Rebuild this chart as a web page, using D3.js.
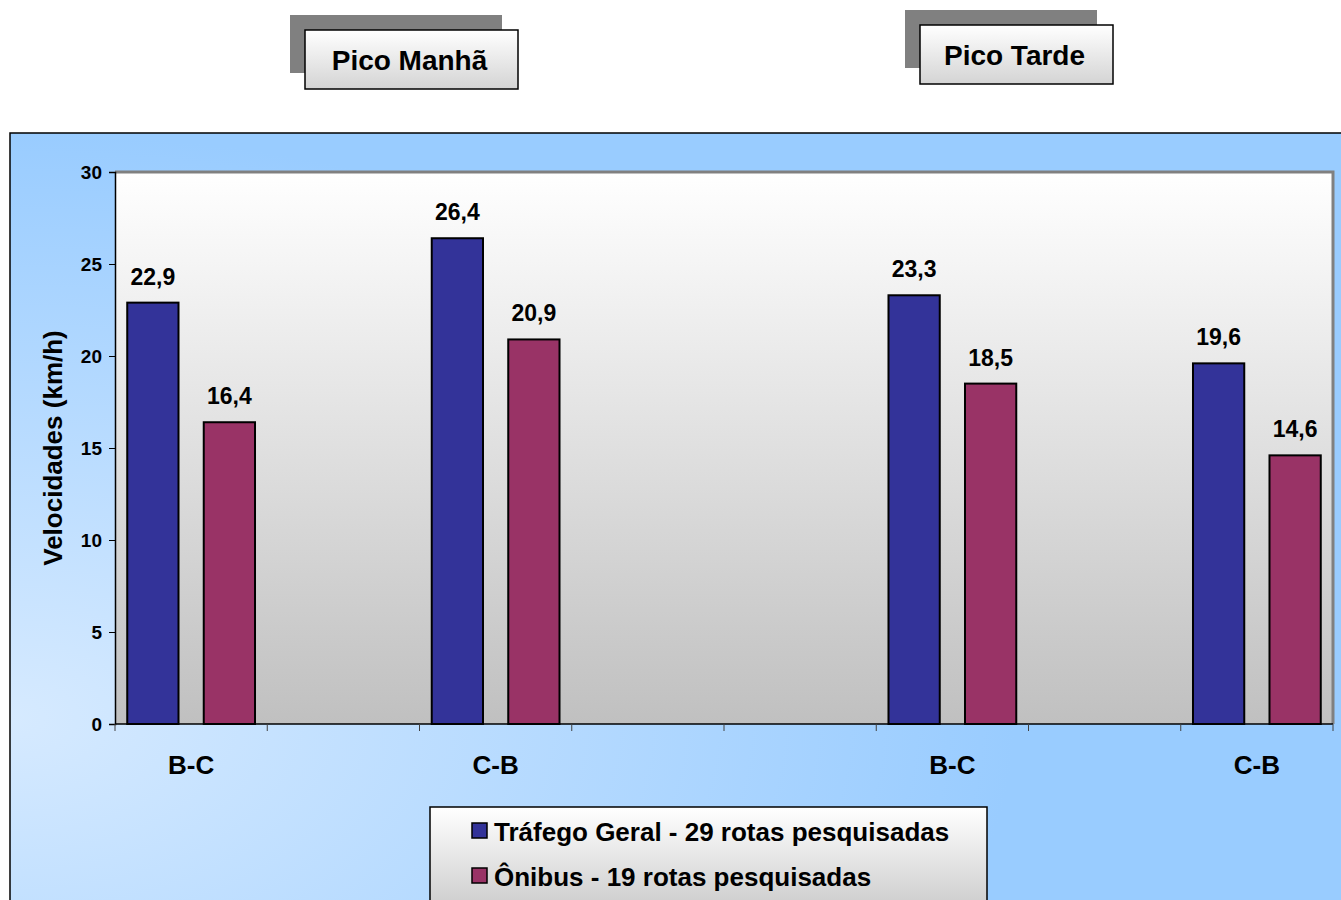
<!DOCTYPE html>
<html>
<head>
<meta charset="utf-8">
<script src="https://cdn.jsdelivr.net/npm/d3@7"></script>
<style>
  body { margin: 0; background: #fff; overflow: hidden; }
  text { font-family: Arial, "Liberation Sans", sans-serif; font-weight: bold; }
</style>
</head>
<body>
<svg id="chart" width="1341" height="900"></svg>
<script>
// categories (empty slots keep the gaps of the original)
let categories = ["B-C", "", "C-B", "", "", "B-C", "", "C-B"];
let trafegoGeral = [22.9, null, 26.4, null, null, 23.3, null, 19.6];
let onibus = [16.4, null, 20.9, null, null, 18.5, null, 14.6];
let seriesNames = ["Tráfego Geral - 29 rotas pesquisadas", "Ônibus - 19 rotas pesquisadas"];
let seriesColors = ["#333399", "#993366"];
let yTicks = [0, 5, 10, 15, 20, 25, 30];
let headers = ["Pico Manhã", "Pico Tarde"];

var svg = d3.select("#chart");
var defs = svg.append("defs");

//gradients
var bg = defs.append("radialGradient").attr("id", "bgGrad")
  .attr("cx", "0").attr("cy", "0.75").attr("r", "0.75");
bg.append("stop").attr("offset", "0").attr("stop-color", "#d6eaff");
bg.append("stop").attr("offset", "1").attr("stop-color", "#99ccff");

var plotGrad = defs.append("linearGradient").attr("id", "plotGrad")
  .attr("x1", 0).attr("y1", 0).attr("x2", 0).attr("y2", 1);
plotGrad.append("stop").attr("offset", "0").attr("stop-color", "#ffffff");
plotGrad.append("stop").attr("offset", "1").attr("stop-color", "#c0c0c0");

var boxGrad = defs.append("linearGradient").attr("id", "boxGrad")
  .attr("x1", 0).attr("y1", 0).attr("x2", 0).attr("y2", 1);
boxGrad.append("stop").attr("offset", "0").attr("stop-color", "#ffffff");
boxGrad.append("stop").attr("offset", "1").attr("stop-color", "#d4d4d4");

var legGrad = defs.append("linearGradient").attr("id", "legGrad")
  .attr("x1", 0).attr("y1", 0).attr("x2", 0).attr("y2", 1);
legGrad.append("stop").attr("offset", "0").attr("stop-color", "#ffffff");
legGrad.append("stop").attr("offset", "1").attr("stop-color", "#c8c8c8");

// header boxes
var headerPos = [{x: 305, y: 30, w: 213, h: 59}, {x: 920, y: 25, w: 193, h: 59}];
headers.forEach(function(h, i) {
  var p = headerPos[i];
  svg.append("rect").attr("x", p.x - 15).attr("y", p.y - 15)
    .attr("width", p.w - 1).attr("height", p.h - 1).attr("fill", "#808080");
  svg.append("rect").attr("x", p.x).attr("y", p.y)
    .attr("width", p.w).attr("height", p.h)
    .attr("fill", "url(#boxGrad)").attr("stroke", "#000").attr("stroke-width", 1.5);
  svg.append("text").attr("x", p.x + p.w / 2 - 2).attr("y", p.y + 40)
    .attr("text-anchor", "middle").style("font-size", "28px").text(h);
});

// chart area
svg.append("rect").attr("x", 10).attr("y", 133).attr("width", 1340).attr("height", 780)
  .attr("fill", "url(#bgGrad)").attr("stroke", "#000").attr("stroke-width", 1.5);

var margin = {top: 172, left: 115},
    width = 1218,
    height = 552;

var g = svg.append("g").attr("transform", "translate(" + margin.left + "," + margin.top + ")");

var x0 = d3.scaleBand().domain(d3.range(categories.length)).range([0, width]).padding(0);
var x1 = d3.scaleBand().domain([0, 1]).range([0, x0.bandwidth()])
  .paddingInner(0.33).paddingOuter(0.16);
var y = d3.scaleLinear().domain([0, 30]).range([height, 0]);

g.append("rect").attr("width", width).attr("height", height).attr("fill", "url(#plotGrad)");
// gray border top & right
g.append("path").attr("d", "M0,0H" + width + "V" + height)
  .attr("fill", "none").attr("stroke", "#808080").attr("stroke-width", 3);

// bars
var rows = categories.map(function(c, i) { return {i: i, vals: [trafegoGeral[i], onibus[i]]}; });
var grp = g.selectAll(".grp").data(rows).enter().append("g")
  .attr("transform", function(d) { return "translate(" + x0(d.i) + ",0)"; });

grp.selectAll("rect").data(function(d) {
    return d.vals.map(function(v, s) { return {v: v, s: s}; }).filter(function(e) { return e.v != null; });
  })
  .enter().append("rect")
  .attr("x", function(d) { return x1(d.s); })
  .attr("width", x1.bandwidth())
  .attr("y", function(d) { return y(d.v); })
  .attr("height", function(d) { return height - y(d.v); })
  .attr("fill", function(d) { return seriesColors[d.s]; })
  .attr("stroke", "#000").attr("stroke-width", 2);

grp.selectAll(".lbl").data(function(d) {
    return d.vals.map(function(v, s) { return {v: v, s: s}; }).filter(function(e) { return e.v != null; });
  })
  .enter().append("text")
  .attr("x", function(d) { return x1(d.s) + x1.bandwidth() / 2; })
  .attr("y", function(d) { return y(d.v) - 18; })
  .attr("text-anchor", "middle")
  .style("font-size", "23px")
  .text(function(d) { return d3.format(".1f")(d.v).replace(".", ","); });

// y axis
var yAxis = g.append("g")
  .call(d3.axisLeft(y).tickValues(yTicks).tickSize(6).tickPadding(7));
yAxis.select(".domain").attr("stroke", "#000").attr("stroke-width", 1.5);
yAxis.selectAll("line").attr("stroke", "#000");
yAxis.selectAll("text").style("font-size", "19px").attr("fill", "#000")
  .style("font-family", "Arial, 'Liberation Sans', sans-serif").style("font-weight", "bold");

// x axis: ticks on slot boundaries
var xAxisG = g.append("g").attr("transform", "translate(0," + height + ")");
xAxisG.append("line").attr("x1", 0).attr("x2", width).attr("stroke", "#000").attr("stroke-width", 1.5);
xAxisG.selectAll(".tk").data(d3.range(categories.length + 1)).enter().append("line")
  .attr("x1", function(d) { return d < categories.length ? x0(d) : width; })
  .attr("x2", function(d) { return d < categories.length ? x0(d) : width; })
  .attr("y1", 0).attr("y2", 7).attr("stroke", "#404040");
xAxisG.selectAll(".cat").data(categories.map(function(c, i) { return {c: c, i: i}; }))
  .enter().append("text")
  .attr("x", function(d) { return x0(d.i) + x0.bandwidth() / 2; })
  .attr("y", 50)
  .attr("text-anchor", "middle")
  .style("font-size", "26px")
  .text(function(d) { return d.c; });

// y title
svg.append("text").attr("transform", "translate(62,448) rotate(-90)")
  .attr("text-anchor", "middle").style("font-size", "26px").text("Velocidades (km/h)");

// legend
var leg = svg.append("g");
leg.append("rect").attr("x", 430).attr("y", 807).attr("width", 557).attr("height", 110)
  .attr("fill", "url(#legGrad)").attr("stroke", "#000").attr("stroke-width", 1.5);
seriesNames.forEach(function(n, i) {
  leg.append("rect").attr("x", 472).attr("y", 823 + i * 45).attr("width", 15).attr("height", 15)
    .attr("fill", seriesColors[i]).attr("stroke", "#000").attr("stroke-width", 1.5);
  leg.append("text").attr("x", 494).attr("y", 841 + i * 45)
    .style("font-size", "26px").text(n);
});
</script>
</body>
</html>
